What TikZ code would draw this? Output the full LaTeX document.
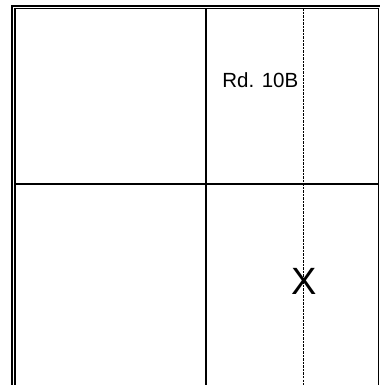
\documentclass[tikz,border=0pt]{standalone}
\usepackage{fontspec}
\setmainfont{Liberation Sans}
\begin{document}
\begin{tikzpicture}[
    x=1pt, y=1pt,
    outerline/.style={line width=2.4pt},
    innerline/.style={line width=1.4pt},
    wall/.style={line width=2.4pt},
    lane/.style={line width=0.8pt, dash pattern=on 2.5pt off 1pt},
    roadlabel/.style={inner sep=0pt, font=\fontsize{20.5}{22}\selectfont},
    crosslabel/.style={inner sep=0pt, font=\fontsize{38}{40}\selectfont},
]
    \useasboundingbox (0,0) rectangle (380,385);
    % frame
    \coordinate (ol) at (12,0);
    \coordinate (ot) at (12,379);
    \coordinate (or) at (380,379);
    \draw[outerline] (ol) -- (ot) -- (or);
    \coordinate (il) at (14.8,0);
    \coordinate (itl) at (14.8,376.5);
    \coordinate (itr) at (378.6,376.5);
    \coordinate (ir) at (378.6,0);
    \draw[innerline] (il) -- (itl) -- (itr) -- (ir);
    % dividing lines
    \coordinate (vtop) at (206,376.5);
    \coordinate (vbot) at (206,0);
    \draw[wall] (vtop) -- (vbot);
    \coordinate (hleft) at (14.8,201);
    \coordinate (hright) at (378.6,201);
    \draw[wall] (hleft) -- (hright);
    \coordinate (dtop) at (303,376.5);
    \coordinate (dbot) at (303,0);
    \draw[lane] (dtop) -- (dbot);
    % labels
    \node[roadlabel, anchor=base east] (road) at (298.5,297) {Rd. 10B};
    \node[crosslabel, anchor=base] (cross) at (304.5,90) {X};
\end{tikzpicture}
\end{document}
